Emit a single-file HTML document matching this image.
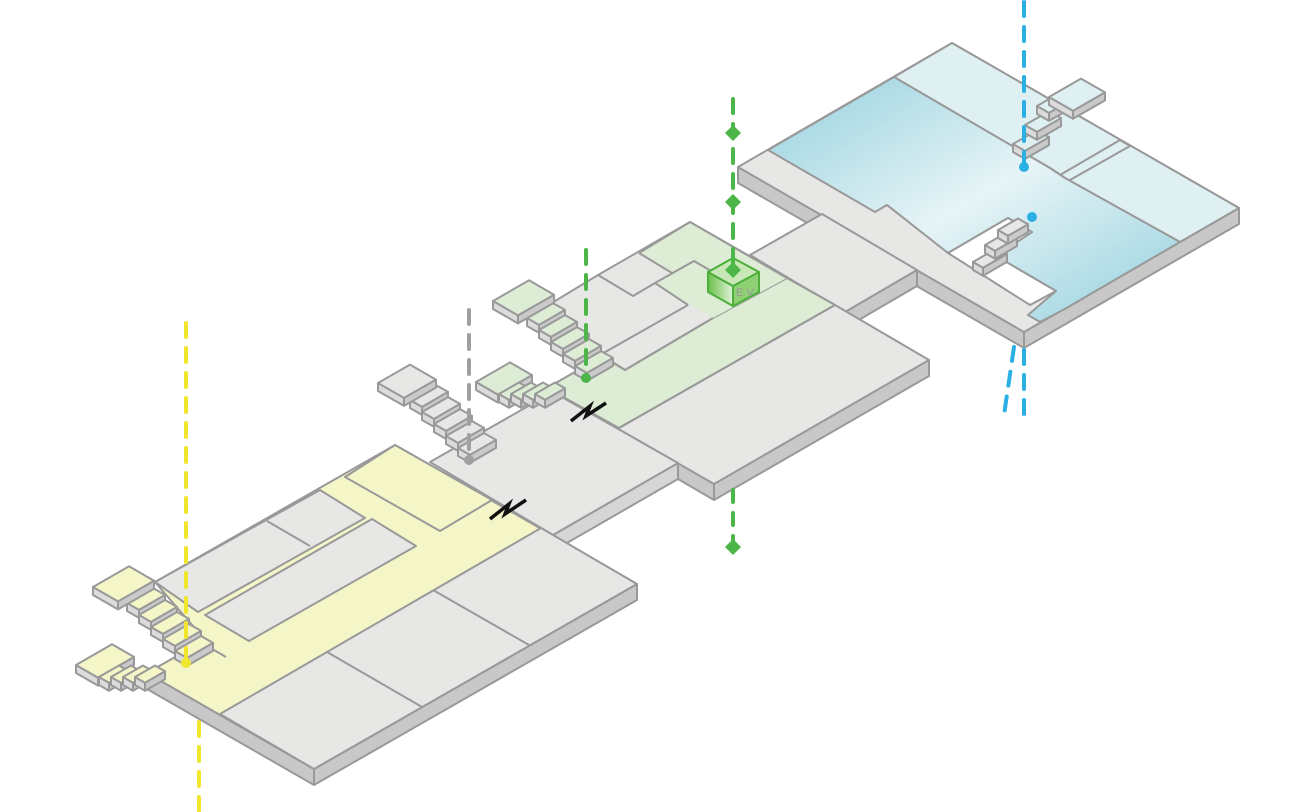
<!DOCTYPE html>
<html><head><meta charset="utf-8"><style>
html,body{margin:0;padding:0;background:#fff;width:1304px;height:812px;overflow:hidden}
svg{display:block}
</style></head><body>
<svg id="s" width="1304" height="812" viewBox="0 0 1304 812" xmlns="http://www.w3.org/2000/svg">
<defs>
<linearGradient id="bl" x1="0" y1="0" x2="1" y2="1">
<stop offset="0" stop-color="#94d0de"/><stop offset="0.5" stop-color="#e6f4f6"/><stop offset="1" stop-color="#94d0de"/>
</linearGradient>
<linearGradient id="ev" x1="0" y1="0" x2="1" y2="0">
<stop offset="0" stop-color="#6cc04a"/><stop offset="1" stop-color="#e0f2d8"/>
</linearGradient>
</defs>
<g stroke="#999" stroke-width="2" stroke-linejoin="round" fill="#e7e8e6">

<!-- Slab E (blue) -->
<polygon points="738,167 738,183 1024,348 1024,332" fill="#c8c8c9"/>
<polygon points="1024,332 1024,348 1239,224 1239,208" fill="#c8c8c9"/>
<polygon points="738,167 952,43 1239,208 1024,332"/>
<polygon points="894,77 952,43 1239,208 1180,242 1065,178 1050,168" fill="#dff0f3"/>
<polygon points="768,150 894,77 1050,168 1065,178 1180,242 1063,310 1040,322 1028,315 1056,291 996,256 1032,232 1008,218 948,253 887,205 875,212" fill="url(#bl)"/>
<polygon points="948,253 1008,218 1032,232 996,256 1056,291 1030,305" fill="#fff"/>
<line x1="1060" y1="175" x2="1120" y2="140"/>
<polyline points="1120,140 1130,146 1070,180" fill="none"/>

<!-- connector D -->
<polygon points="845,312 845,328 917,286 917,270" fill="#c8c8c9"/>
<polygon points="750,255 822,214 917,270 845,312"/>

<!-- Slab C -->
<polygon points="714,484 714,500 929,376 929,360" fill="#c8c8c9"/>
<polygon points="678,463 678,479 714,500 714,484" fill="#c8c8c9"/>
<polygon points="547,388 603,356 532,315 598,275 690,222 835,305 929,360 714,484"/>
<polygon points="547,388 619,428 835,305 787,278 713,318 625,370 603,356" fill="#dcecd5"/>
<polygon points="639,253 690,222 787,278 713,318 655,283 672,273" fill="#dcecd5" stroke="none"/>
<polyline points="639,253 690,222 787,278" fill="none"/>
<polyline points="598,275 633,296 655,283 694,261 718,275" fill="none"/>
<line x1="639" y1="253" x2="672" y2="273"/>
<polyline points="600,355 625,370 713,318" fill="none"/>
<line x1="600" y1="355" x2="688" y2="305"/>
<line x1="655" y1="283" x2="688" y2="305"/>
<line x1="619" y1="428" x2="835" y2="305"/>

<!-- Slab B -->
<polygon points="553,535 553,551 678,479 678,463" fill="#d6d6d7"/>
<polygon points="430,462 553,392 678,463 553,535"/>

<!-- Slab A -->
<polygon points="147,673 147,689 314,785 314,769" fill="#c8c8c9"/>
<polygon points="314,769 314,785 637,600 637,584" fill="#c8c8c9"/>
<polygon points="395,445 155,582 205,640 147,673 314,769 637,584" fill="#f4f6c8"/>
<polygon points="220,714 314,769 637,584 541,528"/>
<line x1="327" y1="652" x2="422" y2="707"/>
<line x1="433" y1="590" x2="529" y2="645"/>
<polygon points="155,582 320,490 365,518 198,612"/>
<line x1="267" y1="521" x2="310" y2="546"/>
<polygon points="205,615 372,519 416,546 249,641"/>
<polygon points="345,477 395,445 492,500 440,531" fill="#f4f6c8"/>
<line x1="180" y1="630" x2="226" y2="657"/>
</g>
<g id="stairs" stroke="#999" stroke-width="2" stroke-linejoin="round"></g>

<!-- EV cube -->
<g stroke="#4caf3a" stroke-width="2" stroke-linejoin="round">
<polygon points="708,272 733,286 733,306 708,292" fill="url(#ev)"/>
<polygon points="733,286 759,272 759,292 733,306" fill="#8fd075"/>
<polygon points="708,272 733,258 759,272 733,286" fill="#c8e8b8"/>
</g>
<text x="736" y="296" font-family="Liberation Sans, sans-serif" font-size="11" fill="#999">E V</text>

<!-- dashed lines -->
<g fill="none" stroke-linecap="round" stroke-width="4">
<line x1="186" y1="323" x2="186" y2="662" stroke="#f0e62e" stroke-dasharray="14,11"/>
<line x1="199" y1="722" x2="199" y2="812" stroke="#f0e62e" stroke-dasharray="14,11"/>
<line x1="469" y1="310" x2="469" y2="458" stroke="#a0a0a0" stroke-dasharray="14,11"/>
<line x1="586" y1="250" x2="586" y2="376" stroke="#4cb748" stroke-dasharray="14,11"/>
<line x1="733" y1="99" x2="733" y2="272" stroke="#4cb748" stroke-dasharray="14,11"/>
<line x1="733" y1="490" x2="733" y2="546" stroke="#4cb748" stroke-dasharray="12,11"/>
<line x1="1024" y1="2" x2="1024" y2="165" stroke="#2bb0e6" stroke-dasharray="14,11"/>
<line x1="1014" y1="347" x2="1004" y2="415" stroke="#2bb0e6" stroke-dasharray="14,11"/>
<line x1="1024" y1="350" x2="1024" y2="417" stroke="#2bb0e6" stroke-dasharray="14,11"/>
</g>
<g>
<circle cx="186" cy="663" r="5" fill="#f0e62e"/>
<circle cx="469" cy="460" r="5" fill="#a0a0a0"/>
<circle cx="586" cy="378" r="5" fill="#4cb748"/>
<circle cx="1024" cy="167" r="5" fill="#2bb0e6"/>
<circle cx="1032" cy="217" r="5" fill="#2bb0e6"/>
<g fill="#4cb748">
<polygon points="733,125 741,133 733,141 725,133"/>
<polygon points="733,194 741,202 733,210 725,202"/>
<polygon points="733,262 741,270 733,278 725,270"/>
<polygon points="733,539 741,547 733,555 725,547"/>
</g>
</g>
<!-- zigzags -->
<g fill="none" stroke="#111" stroke-width="3.5" stroke-linejoin="miter">
<polyline points="571,421 590,406 586,416 606,403"/>
<polyline points="490,519 509,504 505,514 526,500"/>
</g>
</svg>
<script>
(function(){
var g=document.getElementById('stairs'),h='';
function box(x,y,w,d,t,top){
 var k=0.575;
 var L=[x,y],T=[x+w,y-w*k],R=[x+w+d,y-w*k+d*k],B=[x+d,y+d*k];
 function p(a){return a.map(function(q){return q[0].toFixed(1)+','+q[1].toFixed(1)}).join(' ')}
 h+='<polygon points="'+p([L,B,[B[0],B[1]+t],[L[0],L[1]+t]])+'" fill="#dcdcdc"/>';
 h+='<polygon points="'+p([B,R,[R[0],R[1]+t],[B[0],B[1]+t]])+'" fill="#cacaca"/>';
 h+='<polygon points="'+p([L,T,R,B])+'" fill="'+top+'"/>';
}
function flightSE(x,y,n,w,top){for(var i=0;i<n;i++)box(x+i*12,y+i*12,w,12,8,top);}
function flightH(x,y,n,w,top){for(var i=0;i<n;i++)box(x+i*12,y,w,10,8,top);}
var Y='#f4f6c8',G='#dcecd5',Gr='#e7e8e6',B='#dff0f3';
// yellow
flightSE(127,603,5,26,Y); box(93,587,36,25,8,Y);
box(76,665,36,22,8,Y); flightH(99,677,4,20,Y);
// gray
flightSE(410,400,5,26,Gr); box(378,383,32,26,8,Gr);
// green
flightSE(527,318,5,26,G); box(493,301,36,25,8,G);
box(476,382,34,22,8,G); flightH(499,394,4,20,G);
// blue
for(var i=0;i<3;i++)box(1013+i*12,144-i*19,24,12,8,B);
box(1049,97,32,24,8,B);
box(973,262,24,10,8,Gr);box(985,245,22,10,8,Gr);box(998,230,20,10,8,Gr);
g.innerHTML=h;
})();
</script>
</body></html>
